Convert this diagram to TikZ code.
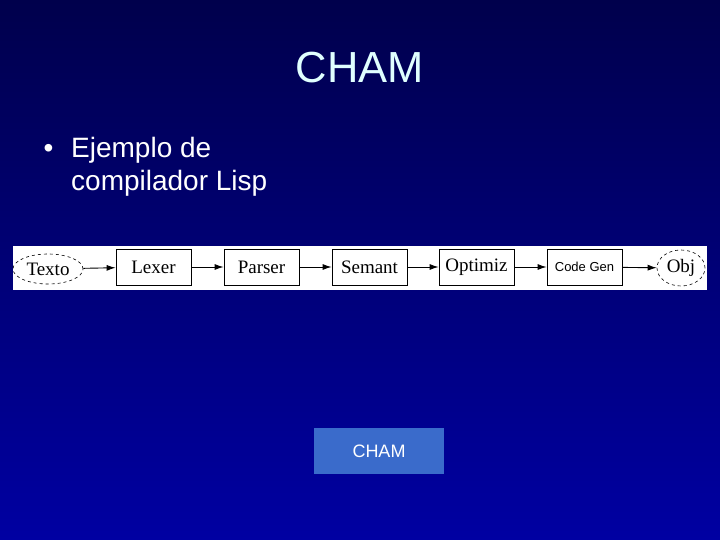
\documentclass[tikz,border=0pt]{standalone}
\usepackage{fontspec}
\setmainfont{Liberation Sans}
\newfontfamily\serif{Liberation Serif}
\usetikzlibrary{shapes.geometric,arrows.meta}
\definecolor{bgtop}{HTML}{00004C}
\definecolor{bgbot}{HTML}{0000A2}
\definecolor{titlecol}{HTML}{E0FFFF}
\definecolor{btncol}{HTML}{3A6BCB}
\tikzset{
  stage/.style={draw=black, line width=0.8pt, minimum width=75pt, minimum height=36pt, inner sep=0pt, font=\serif\fontsize{19}{19}\selectfont, text=black},
  term/.style={ellipse, draw=black, dashed, line width=0.6pt, inner sep=0pt, font=\serif\fontsize{19}{19}\selectfont, text=black},
  flow/.style={-{Latex[length=9pt,width=6pt]}, line width=0.9pt, black},
}
\begin{document}
\begin{tikzpicture}[x=1pt,y=-1pt]
\useasboundingbox (0,0) rectangle (720,540);
\shade[top color=bgtop, bottom color=bgbot] (0,0) rectangle (720,540);
\node[text=titlecol, font=\fontsize{43.5}{43.5}\selectfont] (title) at (360,68) {CHAM};
\node[text=white, anchor=base west, font=\fontsize{28}{28}\selectfont] (b1) at (40,158) {•};
\node[text=white, anchor=base west, font=\fontsize{28}{28}\selectfont, align=left, inner sep=0pt] (t1) at (71,158) {Ejemplo de};
\node[text=white, anchor=base west, font=\fontsize{28}{28}\selectfont, inner sep=0pt] (t2) at (71,191) {compilador Lisp};
\fill[white] (13,246) rectangle (707,290);
\node[term, minimum width=70pt, minimum height=30pt] (texto) at (48,269) {Texto};
\node[stage] (lexer) at (153.5,267) {Lexer};
\node[stage] (parser) at (261.5,267) {Parser};
\node[stage] (semant) at (369.5,267) {Semant};
\node[stage] (optimiz) at (476.5,267) {Optimiz};
\node[stage, font=\fontsize{13}{13}\selectfont] (codegen) at (584.5,267) {Code Gen};
\node[term, minimum width=48pt, minimum height=36pt] (obj) at (681,268) {Obj};
\draw[flow] (texto) -- (lexer);
\draw[flow] (lexer) -- (parser);
\draw[flow] (parser) -- (semant);
\draw[flow] (semant) -- (optimiz);
\draw[flow] (optimiz) -- (codegen);
\draw[flow] (codegen) -- (obj);
\node[fill=btncol, minimum width=130pt, minimum height=46pt, inner sep=0pt, text=white, font=\fontsize{18}{18}\selectfont] (btn) at (379,451) {CHAM};
\end{tikzpicture}
\end{document}
